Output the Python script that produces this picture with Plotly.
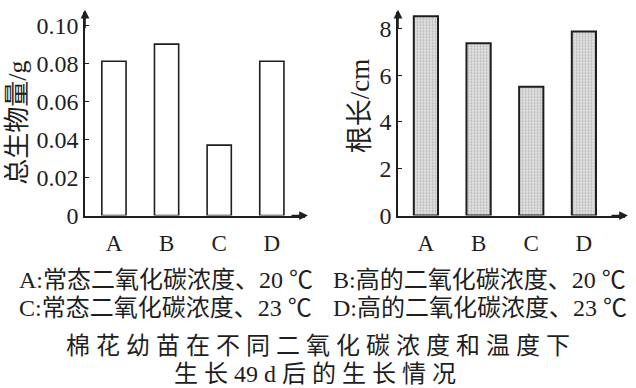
import plotly.graph_objects as go

categories = ["A", "B", "C", "D"]
biomass = [0.081, 0.090, 0.037, 0.081]
root_len = [8.52, 7.36, 5.50, 7.86]
left_ticks = [0, 0.02, 0.04, 0.06, 0.08, 0.10]
left_ticktext = ["0", "0.02", "0.04", "0.06", "0.08", "0.10"]
right_ticks = [0, 2, 4, 6, 8]

W, H = 636, 388
SERIF = "Liberation Serif, Noto Sans CJK SC"
INK = "#1e1e1e"

def px(x):
    return x / W

def py(y):
    return 1 - y / H

fig = go.Figure()
fig.add_trace(go.Bar(x=categories, y=biomass, xaxis="x", yaxis="y", width=0.46,
                     marker=dict(color="white", line=dict(color=INK, width=1.6))))
fig.add_trace(go.Bar(x=categories, y=root_len, xaxis="x2", yaxis="y2", width=0.46,
                     marker=dict(color="#d6d6d6", line=dict(color=INK, width=2),
                                 pattern=dict(shape=".", fgcolor="#8a8a8a", bgcolor="#e0e0e0",
                                              size=3, solidity=0.3))))

axis_common = dict(showline=True, linecolor=INK, linewidth=1.6, showgrid=False, zeroline=False)
tick_x = dict(family=SERIF, size=23, color=INK)
tick_y = dict(family="Liberation Serif", size=24, color=INK)

fig.update_layout(
    width=W, height=H, margin=dict(l=0, r=0, t=0, b=0),
    paper_bgcolor="white", plot_bgcolor="white", showlegend=False,
    xaxis=dict(domain=[px(85), px(305)], range=[-0.55, 3.63], type="category",
               anchor="y", ticks="", ticklabelstandoff=6, tickfont=tick_x, **axis_common),
    yaxis=dict(domain=[py(223), py(12)], range=[0, 0.1071], anchor="x",
               tickvals=left_ticks, ticktext=left_ticktext, ticks="inside", ticklen=4,
               tickcolor=INK, ticklabelstandoff=0, tickfont=tick_y, **axis_common),
    xaxis2=dict(domain=[px(398), px(625)], range=[-0.53, 3.78], type="category",
                anchor="y2", ticks="", ticklabelstandoff=6, tickfont=tick_x, **axis_common),
    yaxis2=dict(domain=[py(223), py(12)], range=[0, 8.715], anchor="x2",
                tickvals=right_ticks, ticks="inside", ticklen=4, tickcolor=INK,
                ticklabelstandoff=0, tickfont=tick_y, **axis_common),
)

ann = []
# arrowheads at axis ends
for (x0, y0, x1, y1) in [(85, 30, 85, 10), (290, 223, 308, 223), (398, 30, 398, 10), (610, 223, 628, 223)]:
    ann.append(dict(x=px(x1), y=py(y1), ax=x0 - x1, ay=y0 - y1, xref="paper", yref="paper",
                    axref="pixel", ayref="pixel", text="", showarrow=True, arrowhead=2,
                    arrowsize=1.1, arrowwidth=1.6, arrowcolor=INK))
# axis titles
ann.append(dict(x=px(18), y=py(127), xref="paper", yref="paper", text="总生物量/g", textangle=-90,
                xanchor="center", yanchor="middle",
                showarrow=False, font=dict(family=SERIF, size=26, color=INK)))
ann.append(dict(x=px(360), y=py(110), xref="paper", yref="paper", text="根长/cm", textangle=-90,
                xanchor="center", yanchor="middle",
                showarrow=False, font=dict(family=SERIF, size=27, color=INK)))
# legend lines
leg = [("A:常态二氧化碳浓度、20 ℃", 17, 290), ("B:高的二氧化碳浓度、20 ℃", 331, 290),
       ("C:常态二氧化碳浓度、23 ℃", 17, 319), ("D:高的二氧化碳浓度、23 ℃", 331, 319)]
for t, x, y in leg:
    ann.append(dict(x=px(x), y=py(y), xref="paper", yref="paper", text=t, xanchor="left",
                    yanchor="middle", showarrow=False, font=dict(family=SERIF, size=24, color=INK)))
# caption
ann.append(dict(x=px(318), y=py(358), xref="paper", yref="paper",
                text="棉 花 幼 苗 在 不 同 二 氧 化 碳 浓 度 和 温 度 下", showarrow=False,
                xanchor="center", yanchor="middle",
                font=dict(family=SERIF, size=24, color=INK)))
ann.append(dict(x=px(315), y=py(387), xref="paper", yref="paper",
                text="生 长 49 d 后 的 生 长 情 况", showarrow=False,
                xanchor="center", yanchor="middle",
                font=dict(family=SERIF, size=24, color=INK)))
fig.update_layout(annotations=ann)

fig.write_html("out.html")
